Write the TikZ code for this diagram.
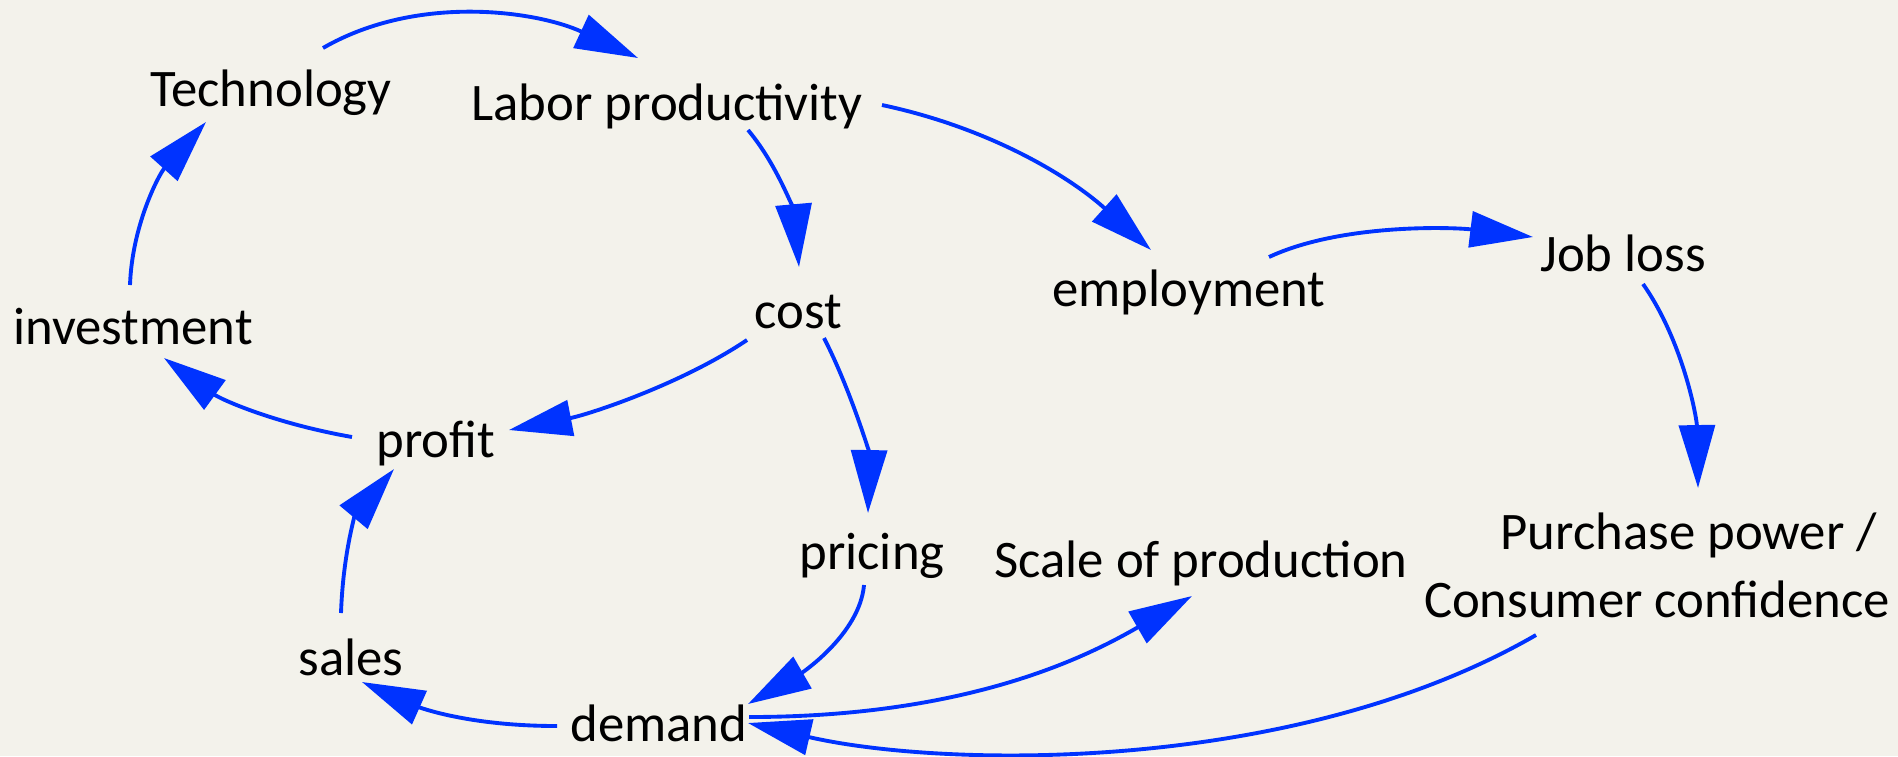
\documentclass[tikz,border=0pt]{standalone}
\usepackage{fontspec}
\setmainfont{Carlito}
\usetikzlibrary{arrows.meta}

\definecolor{paper}{RGB}{243,242,235}
\definecolor{loopblue}{RGB}{0,51,255}

\tikzset{
  var/.style={inner sep=0pt, font=\fontsize{15}{19.3}\selectfont},
  link/.style={draw=loopblue, line width=1.1pt,
               -{Triangle[length=17.9pt,width=10.2pt]}}
}

\begin{document}
\begin{tikzpicture}[x=0.01cm, y=0.01cm]
\path[use as bounding box, fill=paper] (0,0) rectangle (1898,756);

% variables of the loop
\node[var] (tech)     at (271,663)  {Technology};
\node[var] (labor)    at (667,650)  {Labor productivity};
\node[var] (cost)     at (798,444)  {cost};
\node[var] (invest)   at (133,429)  {investment};
\node[var] (employ)   at (1189,464) {employment};
\node[var] (jobloss)  at (1623,503) {Job loss};
\node[var] (profit)   at (436,313)  {profit};
\node[var] (pricing)  at (872,200)  {pricing};
\node[var] (scale)    at (1201,193) {Scale of production};
\node[var, align=right] (purchase) at (1657,191)
     {Purchase power /\kern0.25em\\Consumer confidence};
\node[var] (sales)    at (351,99)   {sales};
\node[var] (demand)   at (659,33)   {demand};

% causal links
\draw[link] ([shift={(52,45)}]tech.center) .. controls +(30:110) and +(155:110) .. ([shift={(-29,48)}]labor.center);
\draw[link] ([shift={(81,-24)}]labor.center) .. controls +(-50:50) and +(95:50) .. ([shift={(1,45)}]cost.center);
\draw[link] ([shift={(215,1)}]labor.center) .. controls +(-12:110) and +(138:110) .. ([shift={(-38,42)}]employ.center);
\draw[link] ([shift={(80,35)}]employ.center) .. controls +(25:80) and +(173:80) .. ([shift={(-90,16)}]jobloss.center);
\draw[link] ([shift={(20,-31)}]jobloss.center) .. controls +(-55:70) and +(91:70) .. ([shift={(41,77)}]purchase.center);
\draw[link] ([shift={(-51,-28)}]cost.center) .. controls +(214:80) and +(11:80) .. ([shift={(73,13)}]profit.center);
\draw[link] ([shift={(26,-26)}]cost.center) .. controls +(-63:60) and +(89:60) .. ([shift={(-4,43)}]pricing.center);
\draw[link] ([shift={(-84,6)}]profit.center) .. controls +(170:80) and +(-36:70) .. ([shift={(31,-31)}]invest.center);
\draw[link] ([shift={(-3,42)}]invest.center) .. controls +(88:60) and +(228:70) .. ([shift={(-65,-29)}]tech.center);
\draw[link] ([shift={(-10,44)}]sales.center) .. controls +(88:60) and +(230:60) .. ([shift={(-42,-26)}]profit.center);
\draw[link] ([shift={(-8,-29)}]pricing.center) .. controls +(265:50) and +(30:60) .. ([shift={(89,19)}]demand.center);
\draw[link] ([shift={(-102,-3)}]demand.center) .. controls +(180:100) and +(-24:50) .. ([shift={(11,-25)}]sales.center);
\draw[link] ([shift={(90,6)}]demand.center) .. controls +(0:220) and +(210:120) .. ([shift={(-9,-33)}]scale.center);
\draw[link] ([shift={(-121,-70)}]purchase.center) .. controls +(210:280) and +(-13:200) .. ([shift={(89,0)}]demand.center);
\end{tikzpicture}
\end{document}
